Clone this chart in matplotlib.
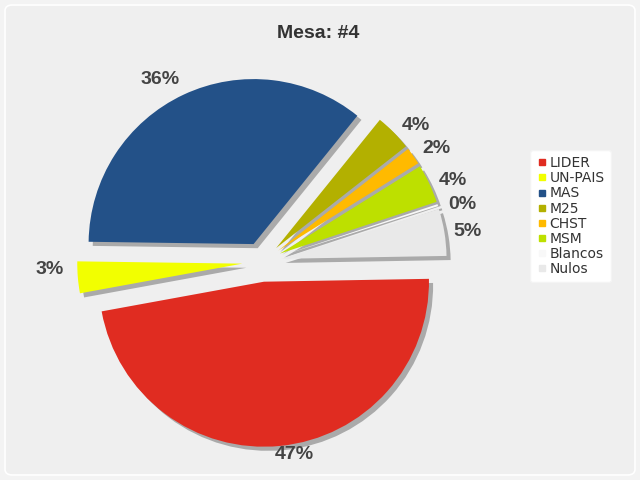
import matplotlib.pyplot as plt
from matplotlib.lines import Line2D
from matplotlib.patches import FancyBboxPatch

# datos de la mesa
partidos = ['LIDER', 'UN-PAIS', 'MAS', 'M25', 'CHST', 'MSM', 'Blancos', 'Nulos']
porcentajes = [47.4, 3.1, 35.6, 3.6, 1.7, 3.8, 0.2, 4.6]
colores = ['#e02c21', '#f2ff00', '#235188', '#b3b000', '#ffba00', '#bde000', '#f8f8f8', '#e9e9e9']

R_PX = 165.0
CX, CY = 262.0, 262.0

fig = plt.figure(figsize=(6.4, 4.8), dpi=100, facecolor='#f3f3f3')
fondo = FancyBboxPatch((5 / 640, 5 / 480), 630 / 640, 470 / 480,
                       boxstyle='round,pad=0,rounding_size=0.012',
                       transform=fig.transFigure, facecolor='#efefef',
                       edgecolor='white', linewidth=1.2, zorder=-10)
fig.add_artist(fondo)

ax = fig.add_axes([0, 0, 1, 1])
ax.set_facecolor('none')

explode = [0.12] * len(porcentajes)

# sombra
ax.pie(porcentajes, explode=explode, colors=['#aaaaaa'] * len(porcentajes),
       startangle=1, counterclock=False, center=(0.025, -0.025),
       wedgeprops=dict(linewidth=0))

wedges, textos, autotextos = ax.pie(
    porcentajes, explode=explode, colors=colores, startangle=1,
    counterclock=False, autopct='%.0f%%', pctdistance=1.15,
    wedgeprops=dict(linewidth=0),
    textprops=dict(fontsize=14, fontweight='bold', color='#444444',
                   family='Liberation Sans'))

# ajuste fino de las etiquetas (pixeles: derecha, abajo)
f = (0.12 + 1.07) / (0.12 + 1.15)
x, y = autotextos[0].get_position()
autotextos[0].set_position((x * f + 0.06, y * f))
ajustes = [(3, -3), (-4, -10), (-13, 7), (5, 11), (3, 7), (1, 7), (1, 7), (-1, 3)]
for t, (dx, dy) in zip(autotextos, ajustes):
    x, y = t.get_position()
    t.set_position((x + dx / R_PX, y - dy / R_PX))

ax.set_xlim(-CX / R_PX, (640 - CX) / R_PX)
ax.set_ylim(-(480 - CY) / R_PX, CY / R_PX)
ax.set_aspect('auto')
ax.axis('off')

fig.text(318 / 640, 1 - 33 / 480, 'Mesa: #4', ha='center', va='center',
         fontsize=14, fontweight='bold', color='#333333', family='Liberation Sans')

handles = [Line2D([], [], marker='s', linestyle='none', markersize=5,
                  markerfacecolor=c, markeredgecolor=c) for c in colores]
leg = fig.legend(handles, partidos, loc='upper left',
                 bbox_to_anchor=(530 / 640, 1 - 150 / 480), borderaxespad=0,
                 fontsize=10, labelspacing=0.08, handlelength=0.8,
                 handletextpad=0.15, borderpad=0.45, frameon=True, fancybox=True,
                 labelcolor='#333333')
leg.get_frame().set_facecolor('white')
leg.get_frame().set_edgecolor('#f4f4f4')
leg.get_frame().set_alpha(1)

fig.savefig('out.png', dpi=100, facecolor=fig.get_facecolor())
